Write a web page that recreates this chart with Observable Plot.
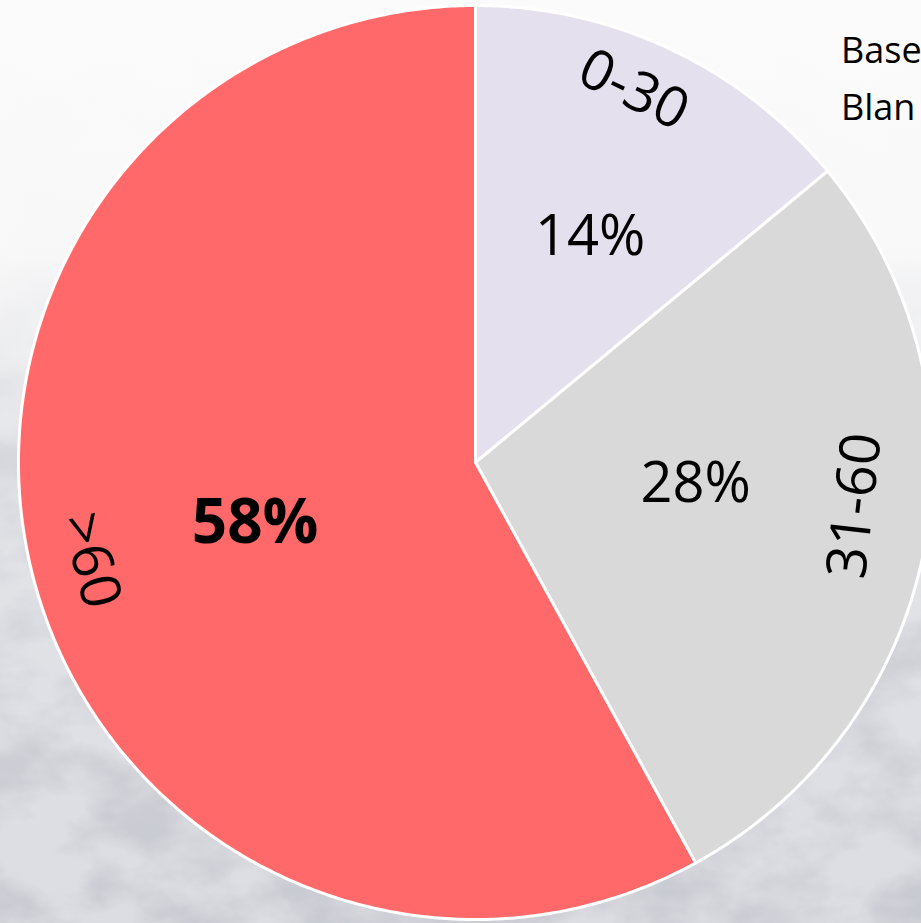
<!DOCTYPE html>
<html>
<head>
<meta charset="utf-8">
<script src="https://cdn.jsdelivr.net/npm/d3@7"></script>
<script src="https://cdn.jsdelivr.net/npm/@observablehq/plot@0.6"></script>
<style>
  html, body { margin: 0; padding: 0; overflow: hidden; background: #f4f4f6; }
  #wrap { position: relative; width: 921px; height: 923px; overflow: hidden; font-family: "Open Sans", sans-serif; }
  #bg { position: absolute; left: 0; top: 0; }
  #chart { position: absolute; left: 0; top: 0; }
  #note { position: absolute; left: 841px; top: 21px; font-size: 36px; line-height: 57px; color: #000; white-space: nowrap; }
</style>
</head>
<body>
<div id="wrap">
  <svg id="bg" width="921" height="923">
    <defs>
      <filter id="clouds" x="0" y="0" width="100%" height="100%">
        <feTurbulence type="fractalNoise" baseFrequency="0.011 0.016" numOctaves="5" seed="7"/>
        <feColorMatrix type="matrix" values="0 0 0 0 0.58  0 0 0 0 0.59  0 0 0 0 0.64  3.0 0 0 0 -1.15"/>
      </filter>
      <linearGradient id="fade" x1="0" y1="0" x2="0" y2="1">
        <stop offset="0" stop-color="#fbfbfb" stop-opacity="1"/>
        <stop offset="0.28" stop-color="#fbfbfb" stop-opacity="0.92"/>
        <stop offset="0.5" stop-color="#f6f6f7" stop-opacity="0.3"/>
        <stop offset="1" stop-color="#f0f0f2" stop-opacity="0"/>
      </linearGradient>
    </defs>
    <rect width="921" height="923" fill="#dcdde2"/>
    <rect width="921" height="923" filter="url(#clouds)"/>
    <rect width="921" height="923" fill="url(#fade)"/>
  </svg>
  <div id="chart"></div>
  <div id="note">Base<br>Blan</div>
</div>
<script>
// ---- data ----
const categories = ["0-30", "31-60", ">60"];
const values = [14, 28, 58];
const percentLabels = ["14%", "28%", "58%"];
const colors = ["#E5E0EE", "#D9D9D9", "#FF6969"];

// ---- layout (label placement relative to each slice) ----
const nameLayout = [
  {r: 0.885, dAngle: -2.2, tilt: 3},
  {r: 0.836, dAngle: -4.3, tilt: 0},
  {r: 0.869, dAngle: 0.1, tilt: 0}
];
const pctLayout = [
  {r: 0.553, dAngle: 1.8, weight: "normal"},
  {r: 0.484, dAngle: -5.3, weight: "normal"},
  {r: 0.5, dAngle: -0.9, weight: "bold"}
];

// ---- geometry from data ----
const total = d3.sum(values);
let acc = 0;
const slices = categories.map((c, i) => {
  const a0 = acc / total * 2 * Math.PI;
  acc += values[i];
  const a1 = acc / total * 2 * Math.PI;
  return {c, i, a0, a1, mid: (a0 + a1) / 2};
});
const outline = slices.flatMap(s => {
  const n = Math.max(2, Math.ceil((s.a1 - s.a0) / (Math.PI / 360)));
  const pts = [{c: s.c, x: 0, y: 0}];
  for (let k = 0; k <= n; k++) {
    const a = s.a0 + (s.a1 - s.a0) * k / n;
    pts.push({c: s.c, x: Math.sin(a), y: Math.cos(a)});
  }
  return pts;
});
const rad = d => d * Math.PI / 180;
const deg = a => a * 180 / Math.PI;
// tangential rotation kept within [-90, 90]
const tangent = a => { let t = deg(a) % 360; if (t > 90 && t <= 270) t -= 180; else if (t > 270) t -= 360; return t; };
const nameLabels = slices.map(s => {
  const L = nameLayout[s.i];
  const a = s.mid + rad(L.dAngle);
  return {text: s.c, x: L.r * Math.sin(a), y: L.r * Math.cos(a), rotate: tangent(a) + L.tilt};
});
const pctLabels = slices.map(s => {
  const L = pctLayout[s.i];
  const a = s.mid + rad(L.dAngle);
  return {text: percentLabels[s.i], x: L.r * Math.sin(a), y: L.r * Math.cos(a), weight: L.weight};
});

const W = 921, H = 923;
const plot = Plot.plot({
  width: W,
  height: H,
  margin: 0,
  style: {background: "transparent", fontFamily: "Open Sans, sans-serif"},
  x: {domain: [-475 / 457, 446 / 457], axis: null},
  y: {domain: [-461 / 457, 462 / 457], axis: null},
  color: {domain: categories, range: colors},
  marks: [
    Plot.line(outline, {x: "x", y: "y", z: "c", fill: "c", stroke: "white", strokeWidth: 3, curve: "linear-closed", strokeLinejoin: "round"}),
    Plot.text(nameLabels, {x: "x", y: "y", text: "text", rotate: "rotate", fontSize: 56, fill: "black"}),
    Plot.text(pctLabels.filter(d => d.weight === "normal"), {x: "x", y: "y", text: "text", fontSize: 56, fill: "black"}),
    Plot.text(pctLabels.filter(d => d.weight === "bold"), {x: "x", y: "y", text: "text", fontSize: 62, fontWeight: "bold", fill: "black"})
  ]
});
document.getElementById("chart").appendChild(plot);
</script>
</body>
</html>
